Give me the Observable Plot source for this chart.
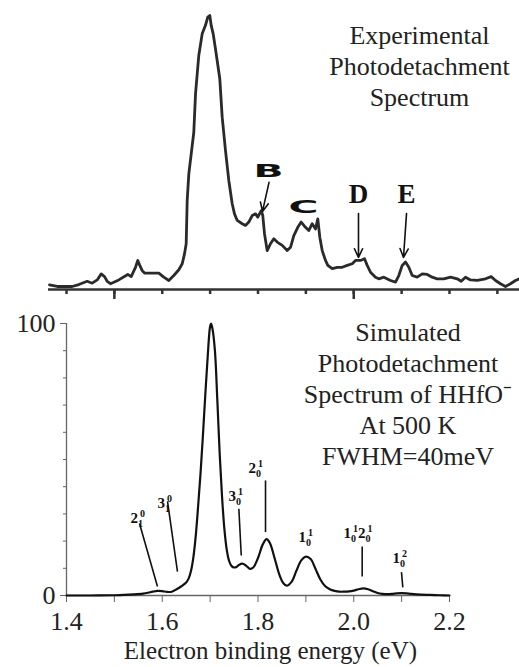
<!DOCTYPE html>
<html><head><meta charset="utf-8">
<script src="https://cdn.jsdelivr.net/npm/d3@7"></script>
<script src="https://cdn.jsdelivr.net/npm/@observablehq/plot@0.6"></script>
<style>
body{margin:0;background:#fff;}
#chart svg{display:block;font-family:"Liberation Serif","Times New Roman",serif;}
</style></head><body><div id="chart"></div>
<script>
// ---- Experimental spectrum (arbitrary units, peak = 100) ----
const expX = [1.3645,1.3806,1.4119,1.4257,1.4432,1.4537,1.4641,1.4725,1.4794,1.4850,1.4919,1.5092,1.5280,1.5351,1.5441,1.5489,1.5531,1.5581,1.5629,1.5928,1.6032,1.6137,1.6241,1.6346,1.6417,1.6465,1.6500,1.6521,1.6555,1.6605,1.6659,1.6695,1.6763,1.6834,1.6903,1.6951,1.6993,1.7022,1.7064,1.7112,1.7202,1.7252,1.7321,1.7390,1.7461,1.7509,1.7566,1.7670,1.7739,1.7808,1.7879,1.7948,1.7996,1.8067,1.8100,1.8136,1.8192,1.8261,1.8330,1.8401,1.8506,1.8610,1.8679,1.8748,1.8831,1.8902,1.8992,1.9061,1.9132,1.9201,1.9249,1.9291,1.9341,1.9410,1.9458,1.9550,1.9654,1.9759,1.9863,1.9968,2.0037,2.0141,2.0225,2.0281,2.0350,2.0454,2.0523,2.0628,2.0768,2.0872,2.0941,2.1012,2.1081,2.1150,2.1221,2.1325,2.1430,2.1534,2.1639,2.1743,2.1881,2.2021,2.2161,2.2244,2.2334,2.2439,2.2579,2.2752,2.2871,2.2961,2.3065,2.3170,2.3274,2.3378,2.3462];
const expY = [1.7,1.1,1.1,1.8,3.0,2.3,3.5,5.7,4.7,3.0,2.1,3.5,5.5,4.7,8.1,10.6,8.8,6.9,6.0,6.0,4.5,3.3,5.1,7.2,9.4,13.0,16.7,32.5,42.2,49.5,57.4,71.4,85.4,93.3,96.4,99.4,100,96.4,93.3,87.8,76.9,62.9,50.7,39.8,31.3,27.6,25.2,24.0,23.4,24.6,27.0,27.6,26.4,28.8,27.0,20.3,14.2,16.7,18.5,17.3,16.1,14.2,15.4,19.7,22.7,24.6,22.7,21.5,24.0,22.1,25.8,19.1,14.2,10.6,8.8,7.6,8.1,8.1,8.8,9.4,10.6,10.6,11.2,8.8,6.3,4.5,3.9,4.5,3.3,2.7,5.1,8.8,10.0,8.1,5.1,4.5,5.7,5.5,4.5,3.9,3.9,4.5,3.9,3.0,4.5,3.5,3.3,3.9,4.7,3.3,2.1,1.1,2.1,3.3,3.9];

// ---- Simulated spectrum (relative intensity) ----
const simX = [1.40,1.45,1.50,1.52,1.54,1.56,1.57,1.58,1.59,1.60,1.61,1.62,1.63,1.64,1.65,1.655,1.66,1.665,1.67,1.675,1.68,1.685,1.69,1.695,1.70,1.702,1.705,1.71,1.715,1.72,1.725,1.73,1.735,1.74,1.745,1.75,1.755,1.76,1.767,1.775,1.783,1.79,1.80,1.81,1.818,1.825,1.835,1.845,1.853,1.86,1.87,1.88,1.89,1.90,1.91,1.92,1.93,1.94,1.95,1.96,1.97,1.98,1.99,2.00,2.01,2.02,2.03,2.04,2.05,2.06,2.07,2.08,2.09,2.10,2.11,2.12,2.14,2.16,2.18,2.20];
const simY = [0,0,0.1,0.2,0.4,0.7,1.0,1.4,1.7,1.6,1.3,1.4,2.3,3.4,4.8,6.2,9,14,22,33,45,59,74,88,99,100,98,90,72,52,36,24,16.5,12.5,10.8,10.3,10.5,11.2,11.7,11,9.8,10.3,13.8,18.8,20.7,19.2,13.5,7.5,4.5,3.6,5,9,12.8,14.3,13.4,9.8,6,3.5,2.3,1.7,1.4,1.4,1.5,1.8,2.3,2.6,2.3,1.6,0.9,0.6,0.5,0.6,0.8,0.9,0.8,0.6,0.3,0.2,0.1,0];

// ---- Ticks ----
const topTicks = [1.4,1.5,1.6,1.7,1.8,1.9,2.0,2.1,2.2,2.3];
const topMajorTicks = [1.5,2.0];
const xTicks = [1.4,1.5,1.6,1.7,1.8,1.9,2.0,2.1,2.2];
const xLabelTicks = [1.4,1.6,1.8,2.0,2.2];
const yMinorTicks = [10,20,30,40,50,60,70,80,90];
const yLabelTicks = [0,100];

// ---- Annotations (experimental) ----
const peakNames = ["B","C","D","E"];
const peakNameX = [1.8219,1.8950,2.0099,2.1102];
const peakNameY = [41.2,28.1,31.4,31.4];
const arrowX1 = [1.8230,2.0099,2.1102];
const arrowY1 = [39.1,27.7,27.7];
const arrowX2 = [1.8094,2.0099,2.1039];
const arrowY2 = [28.5,11.7,11.7];

// ---- Annotations (simulated) ----
const vibLabels = ["2_1^0","3_1^0","3_0^1","2_0^1","1_0^1","1_0^12_0^1","1_0^2"];
const vibLabelX = [1.5337,1.5900,1.7384,1.7802,1.8846,1.9786,2.0809];
const vibLabelY = [26.8,32.0,34.9,44.9,19.5,21.3,12.1];
const leadX1 = [1.5525,1.6110,1.7600,1.8157,2.0176,2.0997];
const leadY1 = [26.5,34.6,31.9,42.3,18.0,8.6];
const leadX2 = [1.5900,1.6318,1.7650,1.8157,2.0176,2.1025];
const leadY2 = [3.3,8.8,14.7,23.3,7.0,3.0];

const topTitle = "Experimental\nPhotodetachment\nSpectrum";
const bottomTitle = "Simulated\nPhotodetachment\nSpectrum of HHfO\u207B\nAt 500 K\nFWHM=40meV";
const xTitle = "Electron binding energy (eV)";

const serif = "Liberation Serif";

const exp = expX.map((x, i) => ({x, y: expY[i]}));
const sim = simX.map((x, i) => ({x, y: simY[i]}));
const peaks = peakNames.map((t, i) => ({t, x: peakNameX[i], y: peakNameY[i]}));
const arrows = arrowX1.map((x1, i) => ({x1, y1: arrowY1[i], x2: arrowX2[i], y2: arrowY2[i]}));
const vibs = vibLabels.map((t, i) => ({t, x: vibLabelX[i], y: vibLabelY[i]}));
const leads = leadX1.map((x1, i) => ({x1, y1: leadY1[i], x2: leadX2[i], y2: leadY2[i]}));

const topPlot = Plot.plot({
  width: 519, height: 305,
  marginTop: 15, marginBottom: 16, marginLeft: 48, marginRight: 0,
  style: {background: "white", color: "#111"},
  x: {domain: [1.3624, 2.3462], label: null},
  y: {domain: [0, 100], axis: null, label: null},
  marks: [
    Plot.ruleY([0], {stroke: "#333", strokeWidth: 2.5}),
    Plot.axisX({ticks: topTicks, tickSize: 5, tickFormat: () => "", stroke: "#333", strokeWidth: 2.5, label: null}),
    Plot.axisX({ticks: topMajorTicks, tickSize: 10, tickFormat: () => "", stroke: "#333", strokeWidth: 2.5, label: null}),
    Plot.line(exp, {x: "x", y: "y", stroke: "#2a2a2a", strokeWidth: 2.8}),
    Plot.arrow(arrows, {x1: "x1", y1: "y1", x2: "x2", y2: "y2", stroke: "#111", strokeWidth: 1.6, headLength: 9, headAngle: 50}),
    Plot.text(peaks.filter(d => d.t === "B" || d.t === "C"), {x: "x", y: "y", text: "t", fontFamily: "DejaVu Sans", fontWeight: "bold", fontSize: 17, lineAnchor: "bottom", fill: "#111"}),
    Plot.text(peaks.filter(d => d.t === "D" || d.t === "E"), {x: "x", y: "y", text: "t", fontFamily: serif, fontWeight: "bold", fontSize: 27, lineAnchor: "bottom", fill: "#111"}),
    Plot.text([topTitle], {x: 2.1373, y: 66.8, text: d => d, fontFamily: serif, fontSize: 26, lineAnchor: "bottom", lineHeight: 1.21, fill: "#222"})
  ]
});

const bottomPlot = Plot.plot({
  width: 519, height: 362,
  marginTop: 18, marginBottom: 72, marginLeft: 66, marginRight: 70,
  style: {background: "white", color: "#111"},
  x: {domain: [1.4, 2.2], label: null},
  y: {domain: [0, 100], label: null},
  marks: [
    Plot.ruleY([0], {stroke: "#666", strokeWidth: 1.3}),
    Plot.ruleX([1.4], {stroke: "#666", strokeWidth: 1.3}),
    Plot.axisX({ticks: xTicks, tickSize: 7, tickPadding: 9, fontSize: 26, fontFamily: serif, stroke: "#666", fill: "#222",
      tickFormat: d => xLabelTicks.some(v => Math.abs(v - d) < 1e-9) ? d.toFixed(1) : "", label: null}),
    Plot.axisY({ticks: yMinorTicks, tickSize: 3, tickFormat: () => "", stroke: "#666", label: null}),
    Plot.axisY({ticks: yLabelTicks, tickSize: 6, tickPadding: 5, fontSize: 26, fontFamily: serif, stroke: "#666", fill: "#222", label: null}),
    Plot.line(sim, {x: "x", y: "y", curve: "catmull-rom", stroke: "#111", strokeWidth: 2.2}),
    Plot.link(leads, {x1: "x1", y1: "y1", x2: "x2", y2: "y2", stroke: "#111", strokeWidth: 1.6}),
    Plot.text(vibs, {x: "x", y: "y", text: "t", textAnchor: "start", lineAnchor: "bottom", fontFamily: serif, fontWeight: "bold", fontSize: 15, fill: "#111"}),
    Plot.text([bottomTitle], {x: 2.1133, y: 47.8, text: d => d, fontFamily: serif, fontSize: 26, lineAnchor: "bottom", lineHeight: 1.2, fill: "#222"}),
    Plot.text([xTitle], {x: 1.826, frameAnchor: "bottom", dy: 63, text: d => d, fontFamily: serif, fontSize: 25, lineAnchor: "bottom", fill: "#222"})
  ]
});

// stretch the heavy B / C labels horizontally
topPlot.querySelectorAll("text").forEach(t => {
  if (t.textContent === "B" || t.textContent === "C") {
    t.setAttribute("textLength", "30");
    t.setAttribute("lengthAdjust", "spacingAndGlyphs");
  }
});

// render vibrational labels with subscript / superscript
const NS = "http://www.w3.org/2000/svg";
bottomPlot.querySelectorAll("text").forEach(t => {
  const s = t.textContent;
  if (!vibLabels.includes(s)) return;
  const groups = [...s.matchAll(/(\d)_(\d)\^(\d)/g)];
  t.textContent = "";
  groups.forEach((g, k) => {
    const base = document.createElementNS(NS, "tspan");
    base.textContent = g[1];
    if (k > 0) base.setAttribute("dy", "6");
    const sub = document.createElementNS(NS, "tspan");
    sub.textContent = g[2];
    sub.setAttribute("font-size", "10");
    sub.setAttribute("dy", "4");
    const sup = document.createElementNS(NS, "tspan");
    sup.textContent = g[3];
    sup.setAttribute("font-size", "10");
    sup.setAttribute("dx", "-3");
    sup.setAttribute("dy", "-10");
    t.append(base, sub, sup);
  });
});

[topPlot, bottomPlot].forEach(svg => svg.setAttribute("font-family", serif));
const chart = document.getElementById("chart");
chart.append(topPlot, bottomPlot);
</script>
</body></html>
